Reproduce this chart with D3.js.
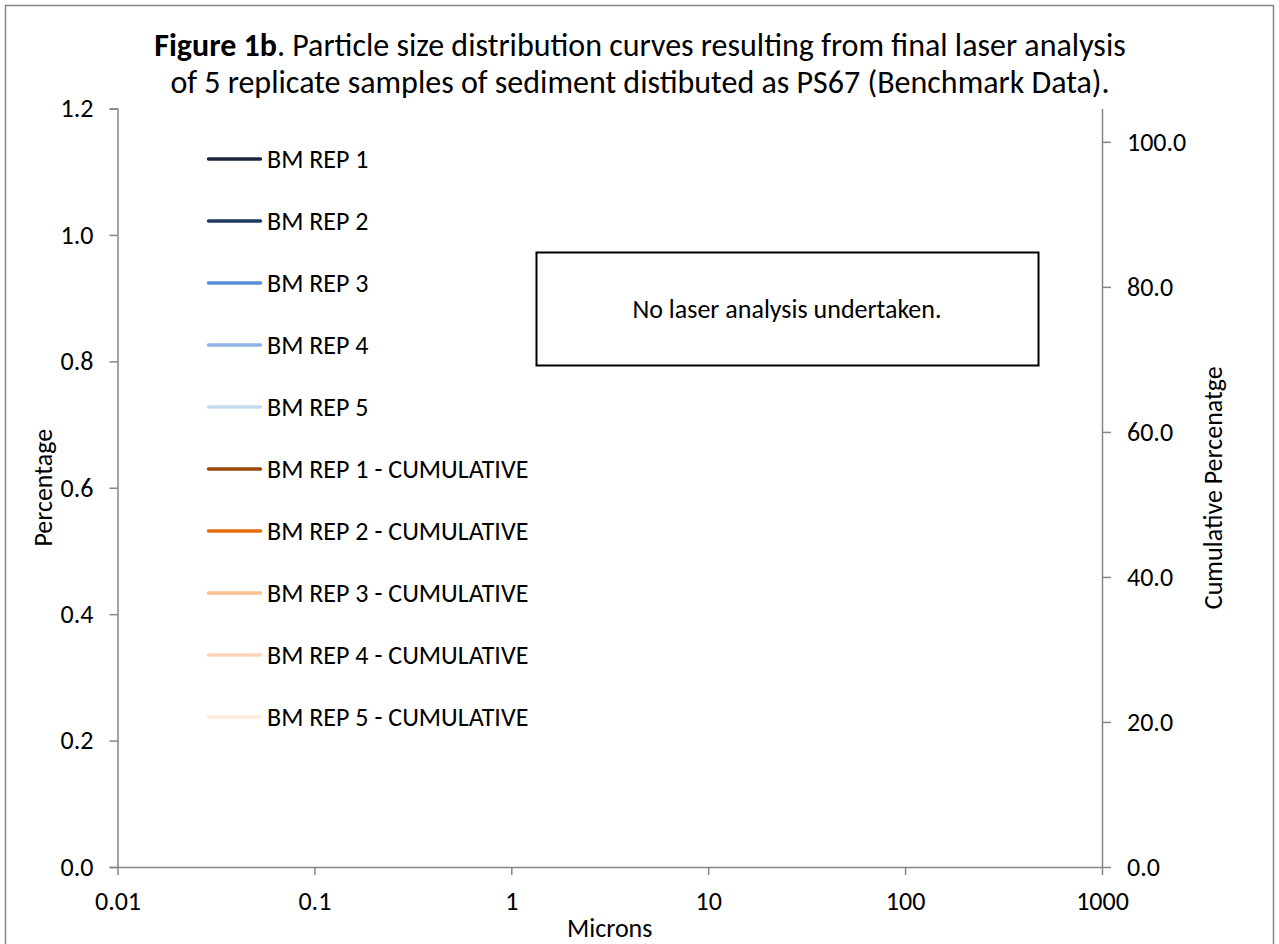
<!DOCTYPE html>
<html><head><meta charset="utf-8">
<script src="https://cdn.jsdelivr.net/npm/d3@7"></script>
<style>
body{margin:0;background:#fff}
text{font-family:Carlito,Calibri,Lato,sans-serif;fill:#000}
</style>
</head><body>
<svg id="chart" width="1279" height="944"></svg>
<script>
// series shown in the legend (no laser data for this sample)
let seriesNames = ["BM REP 1", "BM REP 2", "BM REP 3", "BM REP 4", "BM REP 5",
  "BM REP 1 - CUMULATIVE", "BM REP 2 - CUMULATIVE", "BM REP 3 - CUMULATIVE",
  "BM REP 4 - CUMULATIVE", "BM REP 5 - CUMULATIVE"];
let seriesColors = ["#17263f", "#1f3a62", "#558ed5", "#8db3e2", "#c6d9f1",
  "#984807", "#e46c0a", "#fac090", "#fcd5b5", "#fdeada"];
let seriesValues = [[], [], [], [], [], [], [], [], [], []]; // [microns, %] pairs
let xTicks = [0.01, 0.1, 1, 10, 100, 1000];
let yTicks = [0, 0.2, 0.4, 0.6, 0.8, 1.0, 1.2];
let y2Ticks = [0, 20, 40, 60, 80, 100];

let svg = d3.select("#chart");
let plotLeft = 117.5, plotRight = 1102, plotTop = 108.5, plotBottom = 867;
let axisColor = "#868686";

let x = d3.scaleLog().domain([0.01, 1000]).range([plotLeft, plotRight]);
let y = d3.scaleLinear().domain([0, 1.2]).range([plotBottom, plotTop]);
let y2 = d3.scaleLinear().domain([0, 104.6]).range([plotBottom, plotTop]);

// outer frame
svg.append("rect").attr("x", 5.5).attr("y", 5.5).attr("width", 1268).attr("height", 960)
  .attr("fill", "none").attr("stroke", axisColor).attr("stroke-width", 1.5);

// title
let title = svg.append("text").attr("text-anchor", "middle").style("font-size", "32px");
let line1 = title.append("tspan").attr("x", 640).attr("y", 56);
line1.append("tspan").style("font-weight", "bold").text("Figure 1b");
line1.append("tspan").text(".  Particle size distribution curves resulting from final laser analysis");
title.append("tspan").attr("x", 640).attr("y", 93)
  .text("of 5 replicate samples of sediment distibuted as PS67 (Benchmark Data).");

function styleAxis(g) {
  g.selectAll("path,line").attr("stroke", axisColor).attr("stroke-width", 1.5);
  g.selectAll("text").style("font-size", "26px").attr("fill", "#000");
}

svg.append("g").attr("transform", `translate(${plotLeft},0)`)
  .call(d3.axisLeft(y).tickValues(yTicks).tickFormat(d3.format(".1f")).tickSizeInner(8).tickSizeOuter(8).tickPadding(16))
  .call(styleAxis);

svg.append("g").attr("transform", `translate(${plotRight},0)`)
  .call(d3.axisRight(y2).tickValues(y2Ticks).tickFormat(d3.format(".1f")).tickSizeInner(9).tickSizeOuter(0).tickPadding(16))
  .call(styleAxis);

svg.append("g").attr("transform", `translate(0,${plotBottom})`)
  .call(d3.axisBottom(x).tickValues(xTicks).tickFormat(d3.format("~g")).tickSizeInner(8).tickSizeOuter(0).tickPadding(17))
  .call(styleAxis);

// axis titles
svg.append("text").attr("text-anchor", "middle").style("font-size", "26px")
  .attr("x", (plotLeft + plotRight) / 2).attr("y", 937).text("Microns");
svg.append("text").attr("text-anchor", "middle").style("font-size", "26px")
  .attr("transform", `translate(52,${(plotTop + plotBottom) / 2}) rotate(-90)`).text("Percentage");
svg.append("text").attr("text-anchor", "middle").style("font-size", "26px")
  .attr("transform", `translate(1222,${(plotTop + plotBottom) / 2}) rotate(-90)`).text("Cumulative Percenatge");

// series lines (empty)
let line = d3.line().x(d => x(d[0])).y(d => y(d[1]));
svg.selectAll(".series").data(seriesValues).enter().append("path")
  .attr("class", "series").attr("fill", "none")
  .attr("stroke", (d, i) => seriesColors[i]).attr("stroke-width", 3.5)
  .attr("d", d => d.length ? line(d) : null);

// legend
let legend = svg.selectAll(".legend").data(seriesNames).enter().append("g")
  .attr("class", "legend").attr("transform", (d, i) => `translate(207,${159 + i * 62})`);
legend.append("line").attr("x1", 1.5).attr("x2", 53.5)
  .attr("stroke", (d, i) => seriesColors[i]).attr("stroke-width", 3.5).attr("stroke-linecap", "round");
legend.append("text").attr("x", 60).attr("dy", "0.35em").style("font-size", "26px").text(d => d);

// note box
svg.append("rect").attr("x", 536.5).attr("y", 252.5).attr("width", 502).attr("height", 113)
  .attr("fill", "#fff").attr("stroke", "#000").attr("stroke-width", 2);
svg.append("text").attr("text-anchor", "middle").style("font-size", "26px")
  .attr("x", 787).attr("y", 309).attr("dy", "0.35em").text("No laser analysis undertaken.");
</script>
</body></html>
